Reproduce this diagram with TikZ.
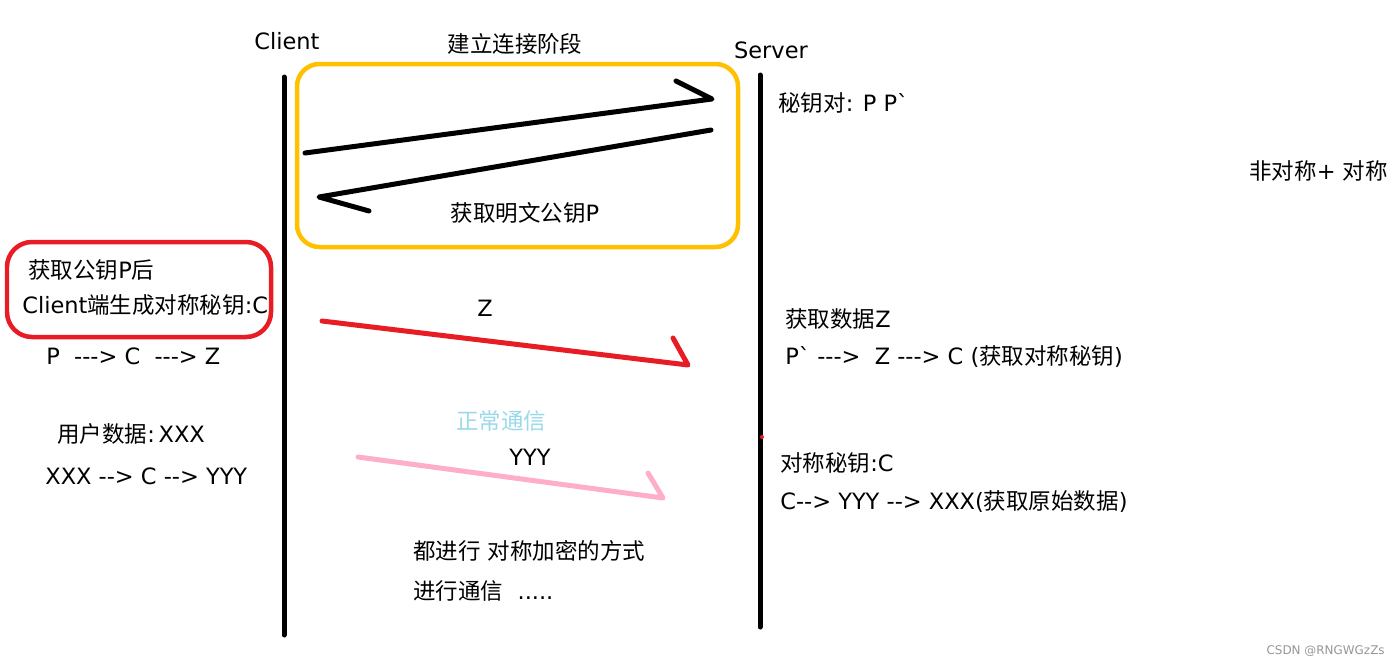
\documentclass[tikz,border=0pt]{standalone}
\usepackage{fontspec}
\setmainfont{DejaVu Sans}[Ligatures=TeXOff]
\newfontfamily\cjk{Noto Sans CJK SC}[Ligatures=TeXOff]
\definecolor{phaseyellow}{RGB}{255,192,0}
\definecolor{keyred}{RGB}{232,28,36}
\definecolor{datapink}{RGB}{255,174,201}
\definecolor{noteblue}{RGB}{153,217,234}
\definecolor{markgrey}{RGB}{150,150,150}

\begin{document}
\begin{tikzpicture}[x=0.02cm, y=-0.02cm,
  label/.style={inner sep=0pt, font=\fontsize{12.8}{15}\selectfont},
  note/.style={label, anchor=west},
  lifeline/.style={line width=0.1cm, line cap=round},
  phase/.style={rounded corners=0.45cm, line width=0.09cm},
  handarrow/.style={line width=0.1cm, line cap=round, line join=round}
]
\useasboundingbox (0,0) rectangle (1400,666);

\node[label] (client) at (287,41) {Client};
\node[label] (server) at (771,50) {Server};
\node[label] (phasetitle) at (515,44) {\cjk 建立连接阶段};

\coordinate (clientTop) at (284,77);
\coordinate (clientBot) at (284,635);
\coordinate (serverTop) at (760,75);
\coordinate (serverBot) at (760,627);
\draw[lifeline] (clientTop) -- (clientBot);
\draw[lifeline] (serverTop) -- (serverBot);
\fill[keyred] (762,437) circle (0.04cm);

\draw[phase, draw=phaseyellow] (297,64) rectangle (738,247);
\draw[phase, draw=keyred, rounded corners=0.5cm] (7,242) rectangle (271,337);

\coordinate (helloFrom) at (305,153);
\coordinate (helloTo) at (712,99);
\coordinate (helloBarb) at (676,81);
\draw[handarrow] (helloFrom) -- (helloTo) -- (helloBarb);

\coordinate (pubFrom) at (711,130);
\coordinate (pubTo) at (319,197);
\coordinate (pubBarb) at (369,211);
\draw[handarrow] (pubFrom) -- (pubTo) -- (pubBarb);

\coordinate (zFrom) at (322,321);
\coordinate (zTo) at (688,365);
\coordinate (zBarb) at (673,338);
\draw[handarrow, keyred] (zFrom) -- (zTo) -- (zBarb);

\coordinate (yFrom) at (358,457);
\coordinate (yTo) at (663,498);
\coordinate (yBarb) at (648,473);
\draw[handarrow, datapink] (yFrom) -- (yTo) -- (yBarb);

\node[label] (pubkey) at (525,213) {{\cjk 获取明文公钥}P};
\node[label] (zmsg) at (485,308) {Z};
\node[label, text=noteblue] (normal) at (501,421) {\cjk 正常通信};
\node[label] (ymsg) at (530,457) {YYY};

\node[note] (getpub) at (28,270) {{\cjk 获取公钥}P{\cjk 后}};
\node[note] (gensym) at (22,305) {Client{\cjk 端生成对称秘钥}:C};
\node[note] (encz) at (46,356) {P\ \ ---> C\ \ ---> Z};
\node[note] (userdata) at (57,434) {{\cjk 用户数据}:\,XXX};
\node[note] (ency) at (45,476) {XXX --> C --> YYY};

\node[note] (keypair) at (778,103) {{\cjk 秘钥对}: P P\textasciigrave};
\node[note] (hybrid) at (1249,171) {{\cjk 非对称}+ {\cjk 对称}};
\node[note] (getz) at (785,319) {{\cjk 获取数据}Z};
\node[note] (decz) at (785,357) {P\textasciigrave{} --->\ \ Z ---> C ({\cjk 获取对称秘钥})};
\node[note] (symkey) at (780,463) {{\cjk 对称秘钥}:C};
\node[note] (decy) at (780,502) {C--> YYY --> XXX({\cjk 获取原始数据})};

\node[note] (allsym) at (413,551) {{\cjk 都进行}\ {\cjk 对称加密的方式}};
\node[note] (comm) at (413,591) {{\cjk 进行通信}\ \ .....};

\node[inner sep=0pt, anchor=east, text=markgrey, font=\fontsize{6.8}{8}\selectfont] (mark) at (1385,651) {CSDN @RNGWGzZs};
\end{tikzpicture}
\end{document}
